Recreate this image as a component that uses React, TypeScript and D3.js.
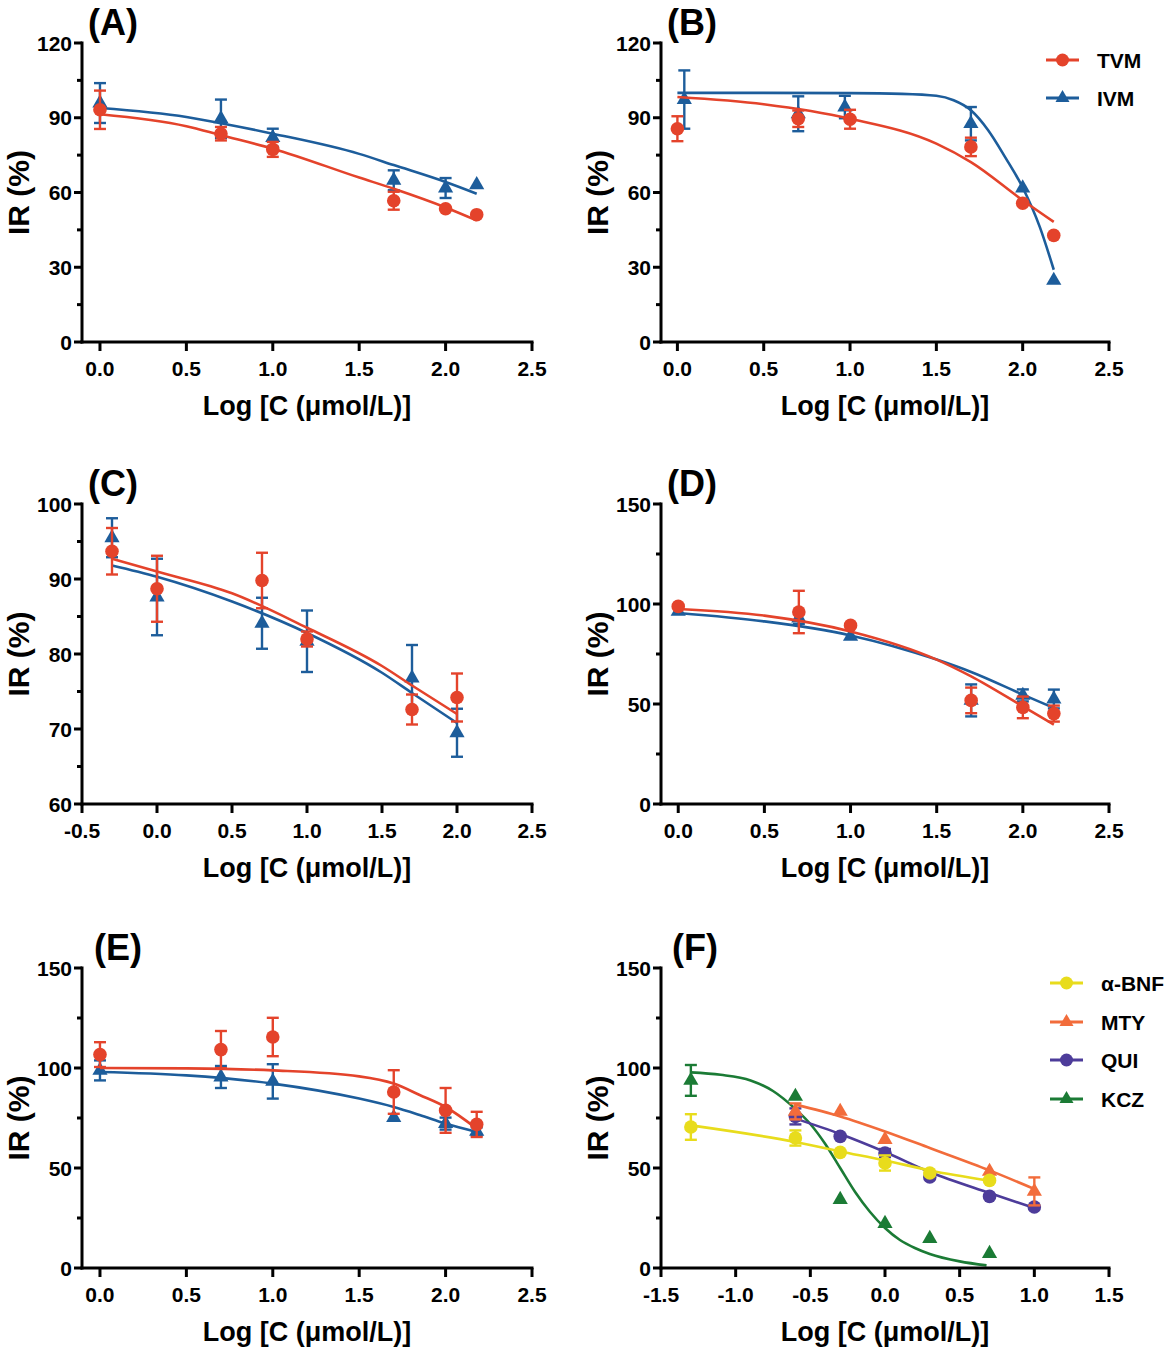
import React from "react";
import * as d3 from "d3";

const FONT = "'Liberation Sans', Arial, Helvetica, sans-serif";

// ---------- colours ----------
const C_TVM = "#E4432B";
const C_IVM = "#1D5D9B";
const C_BNF = "#E8DC1C";
const C_MTY = "#F26C3B";
const C_QUI = "#4D3C9A";
const C_KCZ = "#1B7B35";

// ---------- axis ticks ----------
const xTicksMain = [0, 0.5, 1.0, 1.5, 2.0, 2.5];
const xTicksC = [-0.5, 0, 0.5, 1.0, 1.5, 2.0, 2.5];
const xTicksF = [-1.5, -1.0, -0.5, 0, 0.5, 1.0, 1.5];
const yTicks120 = [0, 30, 60, 90, 120];
const yMinor120 = [15, 45, 75, 105];
const yTicksC = [60, 70, 80, 90, 100];
const yMinorC = [65, 75, 85, 95];
const yTicks150 = [0, 50, 100, 150];
const yMinor150 = [25, 75, 125];

// ---------- Panel A ----------
const xA = [0, 0.7, 1.0, 1.7, 2.0, 2.18];
const tvmA = [93.2, 83.6, 77.3, 56.7, 53.5, 51.1];
const tvmAErr = [7.7, 2.7, 3.0, 3.6, 0, 0];
const ivmA = [95.9, 89.6, 82.0, 64.9, 61.8, 63.1];
const ivmAErr = [8.0, 7.7, 3.6, 4.0, 4.0, 0];
const fitXA = [0, 0.5, 0.7, 1.0, 1.5, 1.7, 2.0, 2.18];
const tvmFitA = [91.4, 86.6, 83.0, 77.6, 66.0, 61.5, 54.0, 48.8];
const ivmFitA = [93.9, 90.3, 87.8, 83.6, 75.5, 71.0, 64.2, 59.5];

// ---------- Panel B ----------
const xTvmB = [0, 0.7, 1.0, 1.7, 2.0, 2.18];
const tvmB = [85.6, 89.6, 89.4, 78.3, 55.7, 42.8];
const tvmBErr = [5.0, 3.3, 3.8, 3.7, 0, 0];
const xIvmB = [0.04, 0.7, 0.97, 1.7, 2.0, 2.18];
const ivmB = [97.3, 91.6, 94.3, 87.6, 61.8, 24.7];
const ivmBErr = [11.7, 7.0, 4.5, 6.7, 0, 0];
const fitXTvmB = [0, 0.5, 1.0, 1.5, 1.7, 2.0, 2.18];
const tvmFitB = [98.3, 95.4, 89.6, 79.6, 72.2, 56.9, 48.2];
const fitXIvmB = [0, 0.5, 1.0, 1.3, 1.5, 1.6, 1.7, 1.8, 1.9, 2.0, 2.1, 2.18];
const ivmFitB = [100, 100, 99.9, 99.6, 98.8, 97, 93, 85, 74, 62, 46, 29];

// ---------- Panel C ----------
const xC = [-0.3, 0, 0.7, 1.0, 1.7, 2.0];
const tvmC = [93.7, 88.7, 89.8, 82.0, 72.6, 74.2];
const tvmCErr = [3.1, 4.4, 3.7, 1.0, 2.0, 3.2];
const ivmC = [95.5, 87.6, 84.1, 81.7, 76.8, 69.5];
const ivmCErr = [2.6, 5.1, 3.4, 4.1, 4.4, 3.2];
const fitXC = [-0.3, 0, 0.5, 1.0, 1.5, 1.7, 2.0];
const tvmFitC = [92.7, 91.0, 88.1, 83.5, 78.4, 75.8, 72.0];
const ivmFitC = [91.8, 90.3, 87.0, 82.8, 77.5, 74.8, 70.8];

// ---------- Panel D ----------
const xD = [0, 0.7, 1.0, 1.7, 2.0, 2.18];
const tvmD = [98.8, 96.0, 89.3, 51.8, 48.3, 45.2];
const tvmDErr = [0, 10.6, 0, 6.4, 5.4, 4.0];
const ivmD = [96.3, 93.0, 83.8, 51.8, 54.3, 52.5];
const ivmDErr = [0, 3.0, 0, 8.0, 3.0, 4.7];
const fitXD = [0, 0.5, 1.0, 1.5, 1.7, 2.0, 2.18];
const tvmFitD = [97.5, 94.2, 86.3, 72.2, 63.8, 48.8, 39.7];
const ivmFitD = [95.5, 91.3, 84.3, 72.2, 66.0, 54.7, 48.0];

// ---------- Panel E ----------
const xE = [0, 0.7, 1.0, 1.7, 2.0, 2.18];
const tvmE = [106.7, 109.2, 115.5, 88.0, 78.8, 71.8];
const tvmEErr = [6.2, 9.3, 9.6, 10.9, 11.2, 6.3];
const ivmE = [98.8, 95.5, 93.3, 75.2, 72.2, 68.3];
const ivmEErr = [5.0, 5.5, 8.6, 0, 3.0, 2.0];
const fitXE = [0, 0.5, 1.0, 1.5, 1.7, 1.85, 2.0, 2.18];
const tvmFitE = [100, 99.8, 98.8, 95.8, 92.2, 86.5, 80.5, 69.7];
const ivmFitE = [98.0, 96.3, 92.2, 84.7, 80.5, 76.5, 72.2, 68.0];

// ---------- Panel F ----------
const xBnf = [-1.3, -0.6, -0.3, 0, 0.3, 0.7];
const bnfF = [70.5, 65.0, 57.8, 52.5, 47.5, 43.8];
const bnfFErr = [6.4, 3.8, 0, 3.8, 0, 0];
const bnfFit = [71.3, 63.0, 58.3, 53.8, 48.8, 43.7];

const xMty = [-0.6, -0.3, 0, 0.7, 1.0];
const mtyF = [78.3, 78.3, 64.2, 48.3, 38.3];
const mtyFErr = [4.0, 0, 0, 0, 7.0];
const fitXMty = [-0.6, -0.3, 0, 0.3, 0.7, 1.0];
const mtyFit = [81.7, 75.8, 68.3, 60.0, 48.8, 39.5];

const xQui = [-0.6, -0.3, 0, 0.3, 0.7, 1.0];
const quiF = [75.8, 65.8, 57.5, 45.5, 35.8, 30.5];
const quiFErr = [4.0, 0, 2.0, 0, 0, 0];
const quiFit = [74.7, 67.0, 58.0, 48.0, 37.5, 30.0];

const xKcz = [-1.3, -0.6, -0.3, 0, 0.3, 0.7];
const kczF = [93.8, 85.8, 34.2, 22.2, 14.7, 7.2];
const kczFErr = [7.7, 0, 0, 0, 0, 0];
const fitXKcz = [-1.3, -1.1, -0.9, -0.75, -0.6, -0.5, -0.4, -0.3, -0.2, -0.1, 0, 0.1, 0.2, 0.3, 0.5, 0.68];
const kczFit = [97.8, 96.6, 93.8, 88.5, 79.5, 72.0, 62.0, 50.0, 38.0, 28.0, 20.0, 14.0, 10.0, 7.0, 3.3, 1.3];

// ---------- legends ----------
const legendB = ["TVM", "IVM"];
const legendF = ["α-BNF", "MTY", "QUI", "KCZ"];

type Shape = "circle" | "triangle";
interface Series {
  name: string;
  color: string;
  shape: Shape;
  x: number[];
  y: number[];
  err: number[];
  fitX: number[];
  fitY: number[];
}
interface PanelCfg {
  label: string;
  col: number;
  row: number;
  xDomain: [number, number];
  xTicks: number[];
  yDomain: [number, number];
  yTicks: number[];
  yMinor: number[];
  series: Series[];
  legend?: { name: string; color: string; shape: Shape }[];
  labelDx: number;
}

const ivm = (x: number[], y: number[], err: number[], fitX: number[], fitY: number[]): Series => ({
  name: "IVM", color: C_IVM, shape: "triangle", x, y, err, fitX, fitY,
});
const tvm = (x: number[], y: number[], err: number[], fitX: number[], fitY: number[]): Series => ({
  name: "TVM", color: C_TVM, shape: "circle", x, y, err, fitX, fitY,
});

const panels: PanelCfg[] = [
  {
    label: "(A)", col: 0, row: 0, xDomain: [-0.104, 2.5], xTicks: xTicksMain,
    yDomain: [0, 120], yTicks: yTicks120, yMinor: yMinor120, labelDx: 6,
    series: [ivm(xA, ivmA, ivmAErr, fitXA, ivmFitA), tvm(xA, tvmA, tvmAErr, fitXA, tvmFitA)],
  },
  {
    label: "(B)", col: 1, row: 0, xDomain: [-0.095, 2.5], xTicks: xTicksMain,
    yDomain: [0, 120], yTicks: yTicks120, yMinor: yMinor120, labelDx: 6,
    series: [ivm(xIvmB, ivmB, ivmBErr, fitXIvmB, ivmFitB), tvm(xTvmB, tvmB, tvmBErr, fitXTvmB, tvmFitB)],
    legend: [
      { name: legendB[0], color: C_TVM, shape: "circle" },
      { name: legendB[1], color: C_IVM, shape: "triangle" },
    ],
  },
  {
    label: "(C)", col: 0, row: 1, xDomain: [-0.5, 2.5], xTicks: xTicksC,
    yDomain: [60, 100], yTicks: yTicksC, yMinor: yMinorC, labelDx: 6,
    series: [ivm(xC, ivmC, ivmCErr, fitXC, ivmFitC), tvm(xC, tvmC, tvmCErr, fitXC, tvmFitC)],
  },
  {
    label: "(D)", col: 1, row: 1, xDomain: [-0.1, 2.5], xTicks: xTicksMain,
    yDomain: [0, 150], yTicks: yTicks150, yMinor: yMinor150, labelDx: 6,
    series: [ivm(xD, ivmD, ivmDErr, fitXD, ivmFitD), tvm(xD, tvmD, tvmDErr, fitXD, tvmFitD)],
  },
  {
    label: "(E)", col: 0, row: 2, xDomain: [-0.104, 2.5], xTicks: xTicksMain,
    yDomain: [0, 150], yTicks: yTicks150, yMinor: yMinor150, labelDx: 12,
    series: [ivm(xE, ivmE, ivmEErr, fitXE, ivmFitE), tvm(xE, tvmE, tvmEErr, fitXE, tvmFitE)],
  },
  {
    label: "(F)", col: 1, row: 2, xDomain: [-1.5, 1.5], xTicks: xTicksF,
    yDomain: [0, 150], yTicks: yTicks150, yMinor: yMinor150, labelDx: 11,
    series: [
      { name: "KCZ", color: C_KCZ, shape: "triangle", x: xKcz, y: kczF, err: kczFErr, fitX: fitXKcz, fitY: kczFit },
      { name: "QUI", color: C_QUI, shape: "circle", x: xQui, y: quiF, err: quiFErr, fitX: xQui, fitY: quiFit },
      { name: "MTY", color: C_MTY, shape: "triangle", x: xMty, y: mtyF, err: mtyFErr, fitX: fitXMty, fitY: mtyFit },
      { name: "α-BNF", color: C_BNF, shape: "circle", x: xBnf, y: bnfF, err: bnfFErr, fitX: xBnf, fitY: bnfFit },
    ],
    legend: [
      { name: legendF[0], color: C_BNF, shape: "circle" },
      { name: legendF[1], color: C_MTY, shape: "triangle" },
      { name: legendF[2], color: C_QUI, shape: "circle" },
      { name: legendF[3], color: C_KCZ, shape: "triangle" },
    ],
  },
];

// layout
const COLS: [number, number][] = [[82, 532], [661, 1109]];
const ROWS: [number, number][] = [[43, 342], [504, 804], [968, 1268]];

const triPath = d3.symbol().type(d3.symbolTriangle).size(100)() as string;
const triLegend = d3.symbol().type(d3.symbolTriangle).size(85)() as string;

function Marker({ shape, color, x, y, legend }: { shape: Shape; color: string; x: number; y: number; legend?: boolean }) {
  if (shape === "circle") return <circle cx={x} cy={y} r={legend ? 6.5 : 6.8} fill={color} />;
  return <path d={legend ? triLegend : triPath} transform={`translate(${x},${y})`} fill={color} />;
}

function Panel({ p }: { p: PanelCfg }) {
  const [x0, x1] = COLS[p.col];
  const [yTop, yBot] = ROWS[p.row];
  const xs = d3.scaleLinear().domain(p.xDomain).range([x0, x1]);
  const ys = d3.scaleLinear().domain(p.yDomain).range([yBot, yTop]);
  const tickFmt = (v: number) => v.toFixed(1);
  const legendYs = p.legend && p.legend.length === 2 ? [60, 98] : [983, 1022, 1060, 1099];
  const legendX = p.legend && p.legend.length === 2 ? 1046 : 1050;

  return (
    <g>
      {/* series */}
      {p.series.map((s) => {
        const line = d3
          .line<number>()
          .x((_, i) => xs(s.fitX[i]))
          .y((d) => ys(d))
          .curve(d3.curveMonotoneX);
        return (
          <g key={s.name}>
            <path d={line(s.fitY) as string} fill="none" stroke={s.color} strokeWidth={2.6} />
            {s.x.map((xv, i) =>
              s.err[i] > 0 ? (
                <g key={"e" + i} stroke={s.color} strokeWidth={2.4}>
                  <line x1={xs(xv)} x2={xs(xv)} y1={ys(s.y[i] - s.err[i])} y2={ys(s.y[i] + s.err[i])} />
                  <line x1={xs(xv) - 6} x2={xs(xv) + 6} y1={ys(s.y[i] + s.err[i])} y2={ys(s.y[i] + s.err[i])} />
                  <line x1={xs(xv) - 6} x2={xs(xv) + 6} y1={ys(s.y[i] - s.err[i])} y2={ys(s.y[i] - s.err[i])} />
                </g>
              ) : null
            )}
            {s.x.map((xv, i) => (
              <Marker key={"m" + i} shape={s.shape} color={s.color} x={xs(xv)} y={ys(s.y[i])} />
            ))}
          </g>
        );
      })}

      {/* axes */}
      <g stroke="#000" strokeWidth={3} fill="none">
        <line x1={x0} x2={x0} y1={yTop - 1.5} y2={yBot + 1.5} />
        <line x1={x0 - 1.5} x2={x1 + 1.5} y1={yBot} y2={yBot} />
        {p.yTicks.map((t) => (
          <line key={"yt" + t} x1={x0 - 8} x2={x0} y1={ys(t)} y2={ys(t)} />
        ))}
        {p.yMinor.map((t) => (
          <line key={"ym" + t} x1={x0 - 5} x2={x0} y1={ys(t)} y2={ys(t)} />
        ))}
        {p.xTicks.map((t) => (
          <line key={"xt" + t} x1={xs(t)} x2={xs(t)} y1={yBot} y2={yBot + 9} />
        ))}
      </g>
      <g fontFamily={FONT} fontWeight="bold" fontSize={21} fill="#000">
        {p.yTicks.map((t) => (
          <text key={"ytl" + t} x={x0 - 10} y={ys(t)} dy="0.36em" textAnchor="end">
            {String(t)}
          </text>
        ))}
        {p.xTicks.map((t) => (
          <text key={"xtl" + t} x={xs(t)} y={yBot + 34} textAnchor="middle">
            {tickFmt(t)}
          </text>
        ))}
      </g>
      <text
        x={(x0 + x1) / 2}
        y={yBot + 73}
        textAnchor="middle"
        fontFamily={FONT}
        fontWeight="bold"
        fontSize={27}
      >
        Log [C (μmol/L)]
      </text>
      <text
        transform={`translate(${x0 - 53},${(yTop + yBot) / 2}) rotate(-90)`}
        textAnchor="middle"
        fontFamily={FONT}
        fontWeight="bold"
        fontSize={30}
      >
        IR (%)
      </text>
      <text x={x0 + p.labelDx} y={yTop - 8} fontFamily={FONT} fontWeight="bold" fontSize={36}>
        {p.label}
      </text>

      {p.legend &&
        p.legend.map((l, i) => (
          <g key={"lg" + l.name}>
            <line x1={legendX} x2={legendX + 33} y1={legendYs[i]} y2={legendYs[i]} stroke={l.color} strokeWidth={3} />
            <Marker shape={l.shape} color={l.color} x={legendX + 16.5} y={legendYs[i]} legend />
            <text
              x={legendX + 51}
              y={legendYs[i]}
              dy="0.36em"
              fontFamily={FONT}
              fontWeight="bold"
              fontSize={21}
            >
              {l.name}
            </text>
          </g>
        ))}
    </g>
  );
}

export default function App() {
  return (
    <svg
      width={1170}
      height={1352}
      viewBox="0 0 1170 1352"
      style={{ position: "absolute", left: 0, top: 0, background: "#fff" }}
    >
      <rect x={0} y={0} width={1170} height={1352} fill="#fff" />
      {panels.map((p) => (
        <Panel key={p.label} p={p} />
      ))}
    </svg>
  );
}
